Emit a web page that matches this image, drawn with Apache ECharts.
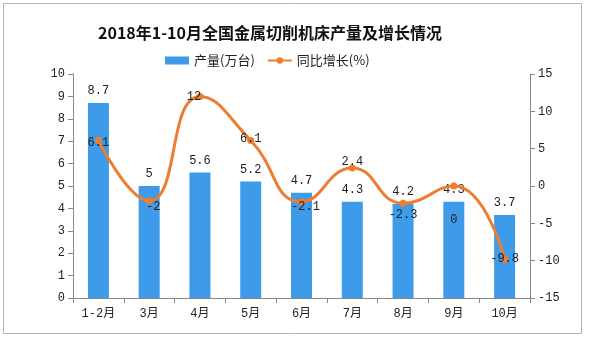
<!DOCTYPE html>
<html>
<head>
<meta charset="utf-8">
<script src="https://cdn.jsdelivr.net/npm/echarts@6/dist/echarts.min.js"></script>
<style>
html,body{margin:0;padding:0;background:#fff;}
#chart{width:589px;height:341px;}
</style>
</head>
<body>
<div id="chart"></div>
<script>
// 月份类目
const categories = ['1-2月', '3月', '4月', '5月', '6月', '7月', '8月', '9月', '10月'];
// 产量(万台)
const output = [8.7, 5, 5.6, 5.2, 4.7, 4.3, 4.2, 4.3, 3.7];
// 同比增长(%)
const growth = [6.1, -2, 12, 6.1, -2.1, 2.4, -2.3, 0, -9.8];
// 同比增长标签的偏移
const growthLabelOffset = [[0, 2], [4, 6], [-6, 0], [0, -2], [4, 5], [0, -6], [0, 12], [0, 34], [0, 0]];

const leftTicks = [0, 10, 1];
const rightTicks = [-15, 15, 5];

const font = '"Liberation Mono", "Noto Sans CJK SC", monospace';
const chart = echarts.init(document.getElementById('chart'), null, {renderer: 'canvas'});

chart.setOption({
  backgroundColor: '#fff',
  animation: false,
  title: {
    text: '2018年1-10月全国金属切削机床产量及增长情况',
    left: 93,
    top: 20,
    textStyle: {fontFamily: '"Noto Sans CJK SC"', fontSize: 16, fontWeight: 'bold', color: '#111'}
  },
  legend: {
    top: 49,
    left: 160,
    itemWidth: 24,
    itemHeight: 8,
    itemGap: 12,
    textStyle: {fontFamily: '"Noto Sans CJK SC"', fontSize: 13, color: '#222'},
    data: [
      {name: '产量(万台)', icon: 'rect'},
      {name: '同比增长(%)'}
    ]
  },
  graphic: [{
    type: 'rect',
    shape: {x: 3.5, y: 3.5, width: 578, height: 330},
    style: {fill: 'none', stroke: '#b4b4b4', lineWidth: 1},
    silent: true
  }],
  grid: {left: 73, right: 59, top: 74, bottom: 43},
  xAxis: {
    type: 'category',
    data: categories,
    axisLine: {lineStyle: {color: '#888'}},
    axisTick: {show: true, alignWithLabel: false, lineStyle: {color: '#888'}},
    axisLabel: {fontFamily: font, fontSize: 12, color: '#222', margin: 10}
  },
  yAxis: [{
    type: 'value',
    min: leftTicks[0], max: leftTicks[1], interval: leftTicks[2],
    axisLine: {show: true, lineStyle: {color: '#888'}},
    axisTick: {show: true, lineStyle: {color: '#888'}},
    splitLine: {show: false},
    axisLabel: {fontFamily: font, fontSize: 12, color: '#222', margin: 8}
  }, {
    type: 'value',
    min: rightTicks[0], max: rightTicks[1], interval: rightTicks[2],
    position: 'right',
    axisLine: {show: true, lineStyle: {color: '#888'}},
    axisTick: {show: true, lineStyle: {color: '#888'}},
    splitLine: {show: false},
    axisLabel: {fontFamily: font, fontSize: 12, color: '#222', margin: 8}
  }],
  series: [{
    name: '产量(万台)',
    type: 'bar',
    data: output,
    barWidth: 21,
    itemStyle: {color: '#3d9be9'},
    label: {show: true, position: 'top', distance: 6, fontFamily: font, fontSize: 12, color: '#222'}
  }, {
    name: '同比增长(%)',
    type: 'line',
    yAxisIndex: 1,
    smooth: true,
    symbol: 'circle',
    symbolSize: 7,
    lineStyle: {color: '#ed7d31', width: 3},
    itemStyle: {color: '#ed7d31'},
    data: growth.map((v, i) => ({
      value: v,
      label: {show: true, position: 'inside', offset: growthLabelOffset[i], fontFamily: font, fontSize: 12, color: '#222'}
    })),
    z: 5
  }]
});
</script>
</body>
</html>
